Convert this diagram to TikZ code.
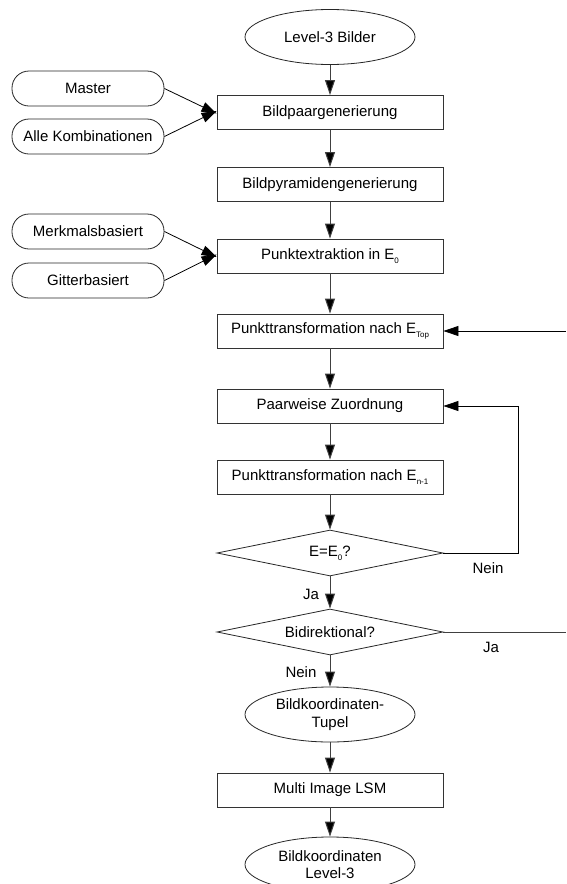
\documentclass[tikz,border=0pt]{standalone}
\usepackage{fontspec}
\setmainfont{Liberation Sans}
\usetikzlibrary{shapes.geometric,arrows.meta}
\newcommand{\subx}[1]{\raisebox{-4pt}{\fontsize{8}{8}\selectfont #1}}
\begin{document}
\begin{tikzpicture}[x=1pt,y=-1pt,
  every node/.style={font=\fontsize{15}{17.5}\selectfont, inner sep=0pt},
  procbox/.style={draw=black!80, line width=0.9pt, rectangle, minimum width=226pt, minimum height=34pt},
  termell/.style={draw=black!85, line width=0.8pt, ellipse, minimum width=170pt, minimum height=55pt, align=center},
  sidebox/.style={draw=black!85, line width=0.8pt, rectangle, rounded corners=17pt, minimum width=152pt, minimum height=35pt},
  decide/.style={draw=black!85, line width=0.8pt, diamond, shape aspect=4.9, minimum width=226pt, minimum height=46pt},
  flow/.style={draw=black!75, line width=1pt, -{Triangle[length=15pt,width=10pt,fill=black]}},
  thinflow/.style={draw=black, line width=0.8pt, -{Triangle[length=15pt,width=10pt,fill=black]}},
  plainline/.style={draw=black!75, line width=1pt},
  lbl/.style={font=\fontsize{15}{17}\selectfont}
]
\useasboundingbox (0,0) rectangle (566,884);
\clip (0,0) rectangle (566,884);
\fill[white] (0,0) rectangle (566,884);

% main column
\node[termell] (l3) at (330,37) {Level-3 Bilder};
\node[procbox] (bp) at (330,112.5) {Bildpaargenerierung};
\node[procbox] (pyr) at (330,184.5) {Bildpyramidengenerierung};
\node[procbox] (pe) at (330,256) {Punktextraktion in E\subx{0}};
\node[procbox] (ptop) at (330,331) {Punkttransformation nach E\subx{Top}};
\node[procbox] (pz) at (330,406) {Paarweise Zuordnung};
\node[procbox] (pn) at (330,477) {Punkttransformation nach E\subx{n-1}};
\node[decide] (d1) at (330,553) {E=E\subx{0}?};
\node[decide] (d2) at (330,632) {Bidirektional?};
\node[termell] (tup) at (330,714.5) {Bildkoordinaten-\\Tupel};
\node[procbox] (lsm) at (330,790) {Multi Image LSM};
\node[termell] (out) at (330,864.5) {Bildkoordinaten\\Level-3};

% side inputs
\node[sidebox] (ma) at (88,88.5) {Master};
\node[sidebox] (ak) at (88,136.5) {Alle Kombinationen};
\node[sidebox] (mb) at (88,231.5) {Merkmalsbasiert};
\node[sidebox] (gb) at (88,280.5) {Gitterbasiert};

% helper coordinates
\coordinate (rtop) at (566,331);
\coordinate (c1) at (518,553);
\coordinate (c2) at (518,406);
\coordinate (rja) at (566,632);

% main flow
\draw[flow] (l3) -- (bp);
\draw[flow] (bp) -- (pyr);
\draw[flow] (pyr) -- (pe);
\draw[flow] (pe) -- (ptop);
\draw[flow] (ptop) -- (pz);
\draw[flow] (pz) -- (pn);
\draw[flow] (pn) -- (d1);
\draw[flow] (d1) -- (d2);
\draw[flow] (d2) -- (tup);
\draw[flow] (tup) -- (lsm);
\draw[flow] (lsm) -- (out);

% side arrows
\draw[thinflow] (ma.east) -- ([yshift=-1pt]bp.west);
\draw[thinflow] (ak.east) -- ([yshift=1.5pt]bp.west);
\draw[thinflow] (mb.east) -- ([yshift=-1pt]pe.west);
\draw[thinflow] (gb.east) -- ([yshift=1.5pt]pe.west);

% feedback
\draw[thinflow] (rtop) -- (ptop.east);
\draw[thinflow] (d1.east) -- (c1) -- (c2) -- (pz.east);
\draw[plainline] (d2.east) -- (rja);

% labels
\node[lbl] (lnein1) at (488,568) {Nein};
\node[lbl] (lja1) at (311,594) {Ja};
\node[lbl] (lja2) at (491,647) {Ja};
\node[lbl] (lnein2) at (301,672) {Nein};
\end{tikzpicture}
\end{document}
